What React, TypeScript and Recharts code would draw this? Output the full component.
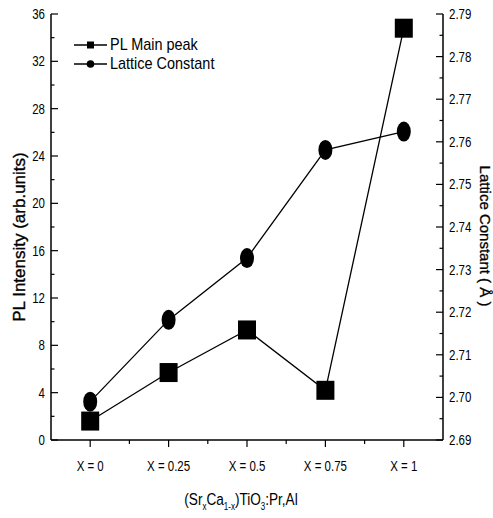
import React from "react";
import { LineChart, Line, XAxis, YAxis } from "recharts";

const categories = ["X = 0", "X = 0.25", "X = 0.5", "X = 0.75", "X = 1"];
const plIntensity = [1.6, 5.7, 9.3, 4.2, 34.8];
const latticeConstant = [2.699, 2.7182, 2.7327, 2.7581, 2.7624];
const leftTicks = [0, 2, 4, 6, 8, 10, 12, 14, 16, 18, 20, 22, 24, 26, 28, 30, 32, 34, 36];
const rightTicks = [2.69, 2.695, 2.7, 2.705, 2.71, 2.715, 2.72, 2.725, 2.73, 2.735, 2.74, 2.745, 2.75, 2.755, 2.76, 2.765, 2.77, 2.775, 2.78, 2.785, 2.79];
const rightMajor = ["2.69", "2.70", "2.71", "2.72", "2.73", "2.74", "2.75", "2.76", "2.77", "2.78", "2.79"];
const xTicks = [0, 0.5, 1, 1.5, 2, 2.5, 3, 3.5, 4];
const seriesNames = ["PL Main peak", "Lattice Constant"];

const data = categories.map((c, i) => ({
  idx: i,
  label: c,
  pl: plIntensity[i],
  lc: latticeConstant[i],
}));

const FONT = "'Liberation Sans', Arial, sans-serif";
const SX = 0.82;

const CText = ({ x, y, anchor, size, children }: any) => (
  <text
    transform={`translate(${x},${y}) scale(${SX},1)`}
    x={0}
    y={0}
    textAnchor={anchor}
    fontFamily={FONT}
    fontSize={size}
    fill="#000"
  >
    {children}
  </text>
);

const LeftTick = (props: any) => {
  const { x, y, payload } = props;
  const v = payload.value;
  const major = v % 4 === 0;
  return (
    <g>
      <line x1={x} x2={x + (major ? 7 : 3.5)} y1={y} y2={y} stroke="#000" strokeWidth={1.2} />
      {major && (
        <CText x={x - 6} y={y + 5} anchor="end" size={14}>
          {v}
        </CText>
      )}
    </g>
  );
};

const RightTick = (props: any) => {
  const { x, y, index } = props;
  const major = index % 2 === 0;
  return (
    <g>
      <line x1={x} x2={x - (major ? 7 : 3.5)} y1={y} y2={y} stroke="#000" strokeWidth={1.2} />
      {major && (
        <CText x={x + 6} y={y + 5} anchor="start" size={14}>
          {rightMajor[index / 2]}
        </CText>
      )}
    </g>
  );
};

const BottomTick = (props: any) => {
  const { x, y, payload } = props;
  const v = payload.value;
  const major = Number.isInteger(v);
  return (
    <g>
      <line x1={x} x2={x} y1={y} y2={y + (major ? 7 : 4)} stroke="#000" strokeWidth={1.2} />
      {major && (
        <CText x={x} y={y + 31} anchor="middle" size={14}>
          {categories[v]}
        </CText>
      )}
    </g>
  );
};

const SquareDot = (props: any) => {
  const { cx, cy } = props;
  if (cx == null || cy == null) return null;
  return <rect x={cx - 9} y={cy - 9.5} width={18} height={19} fill="#000" />;
};

const CircleDot = (props: any) => {
  const { cx, cy } = props;
  if (cx == null || cy == null) return null;
  return <ellipse cx={cx} cy={cy} rx={7} ry={10} fill="#000" />;
};

const LeftLabel = (props: any) => {
  const { viewBox } = props;
  const cx = 19;
  const cy = viewBox.y + viewBox.height / 2 + 10;
  return (
    <text
      x={cx}
      y={cy}
      transform={`rotate(-90, ${cx}, ${cy})`}
      textAnchor="middle"
      dominantBaseline="central"
      fontFamily={FONT}
      fontSize={17}
      fill="#000"
      stroke="#000"
      strokeWidth={0.35}
    >
      {"PL Intensity (arb.units)"}
    </text>
  );
};

const RightLabel = (props: any) => {
  const { viewBox } = props;
  const cx = 485;
  const cy = viewBox.y + viewBox.height / 2 + 9;
  return (
    <text
      x={cx}
      y={cy}
      transform={`rotate(90, ${cx}, ${cy})`}
      textAnchor="middle"
      dominantBaseline="central"
      fontFamily={FONT}
      fontSize={15}
      fill="#000"
      stroke="#000"
      strokeWidth={0.3}
    >
      {"Lattice Constant ( Å )"}
    </text>
  );
};

const BottomLabel = (props: any) => {
  const { viewBox } = props;
  const cx = viewBox.x + viewBox.width / 2 - 6;
  const y = 505;
  return (
    <text
      transform={`translate(${cx},${y}) scale(0.8,1)`}
      x={0}
      y={0}
      textAnchor="middle"
      fontFamily={FONT}
      fontSize={17}
      fill="#000"
    >
      <tspan>(Sr</tspan>
      <tspan fontSize={10} dy={5}>x</tspan>
      <tspan dy={-5}>Ca</tspan>
      <tspan fontSize={10} dy={5}>1-x</tspan>
      <tspan dy={-5}>)TiO</tspan>
      <tspan fontSize={10} dy={5}>3</tspan>
      <tspan dy={-5}>:Pr,Al</tspan>
    </text>
  );
};

const LegendBox = () => (
  <div
    style={{
      position: "absolute",
      left: 74,
      top: 35,
      fontFamily: FONT,
      fontSize: 17,
      color: "#000",
      lineHeight: "19px",
    }}
  >
    {seriesNames.map((name, i) => (
      <div key={name} style={{ display: "flex", alignItems: "center", height: 19 }}>
        <svg width={34} height={12} style={{ marginRight: 2 }}>
          <line x1={0} x2={33} y1={6} y2={6} stroke="#000" strokeWidth={1.3} />
          {i === 0 ? (
            <rect x={13} y={2.5} width={7} height={7} fill="#000" />
          ) : (
            <circle cx={16.5} cy={6} r={3.8} fill="#000" />
          )}
        </svg>
        <span style={{ display: "inline-block", transform: "scaleX(0.85)", transformOrigin: "left center", whiteSpace: "nowrap" }}>
          {name}
        </span>
      </div>
    ))}
  </div>
);

export default function App() {
  return (
    <div style={{ position: "absolute", left: 0, top: 0, width: 493, height: 518, background: "#fff" }}>
      <LineChart width={493} height={518} data={data} margin={{ top: 14, right: 0, bottom: 0, left: 0 }}>
        <XAxis
          xAxisId="bottom"
          dataKey="idx"
          type="number"
          domain={[-0.5, 4.5]}
          allowDataOverflow
          ticks={xTicks}
          interval={0}
          height={78}
          tickSize={0}
          tickMargin={0}
          tickLine={false}
          tick={<BottomTick />}
          axisLine={{ stroke: "#000", strokeWidth: 1.5 }}
          label={<BottomLabel />}
        />
        <XAxis
          xAxisId="top"
          orientation="top"
          dataKey="idx"
          type="number"
          domain={[-0.5, 4.5]}
          allowDataOverflow
          height={0}
          tick={false}
          tickLine={false}
          axisLine={{ stroke: "#000", strokeWidth: 1.5 }}
        />
        <YAxis
          yAxisId="left"
          orientation="left"
          domain={[0, 36]}
          ticks={leftTicks}
          interval={0}
          width={51}
          tickSize={0}
          tickMargin={0}
          tickLine={false}
          tick={<LeftTick />}
          axisLine={{ stroke: "#000", strokeWidth: 1.5 }}
          label={<LeftLabel />}
        />
        <YAxis
          yAxisId="right"
          orientation="right"
          domain={[2.69, 2.79]}
          allowDataOverflow
          ticks={rightTicks}
          interval={0}
          width={50}
          tickSize={0}
          tickMargin={0}
          tickLine={false}
          tick={<RightTick />}
          axisLine={{ stroke: "#000", strokeWidth: 1.5 }}
          label={<RightLabel />}
        />
        <Line
          xAxisId="bottom"
          yAxisId="left"
          type="linear"
          dataKey="pl"
          name={seriesNames[0]}
          stroke="#000"
          strokeWidth={1.3}
          dot={<SquareDot />}
          activeDot={false}
          isAnimationActive={false}
        />
        <Line
          xAxisId="bottom"
          yAxisId="right"
          type="linear"
          dataKey="lc"
          name={seriesNames[1]}
          stroke="#000"
          strokeWidth={1.3}
          dot={<CircleDot />}
          activeDot={false}
          isAnimationActive={false}
        />
      </LineChart>
      <LegendBox />
    </div>
  );
}
